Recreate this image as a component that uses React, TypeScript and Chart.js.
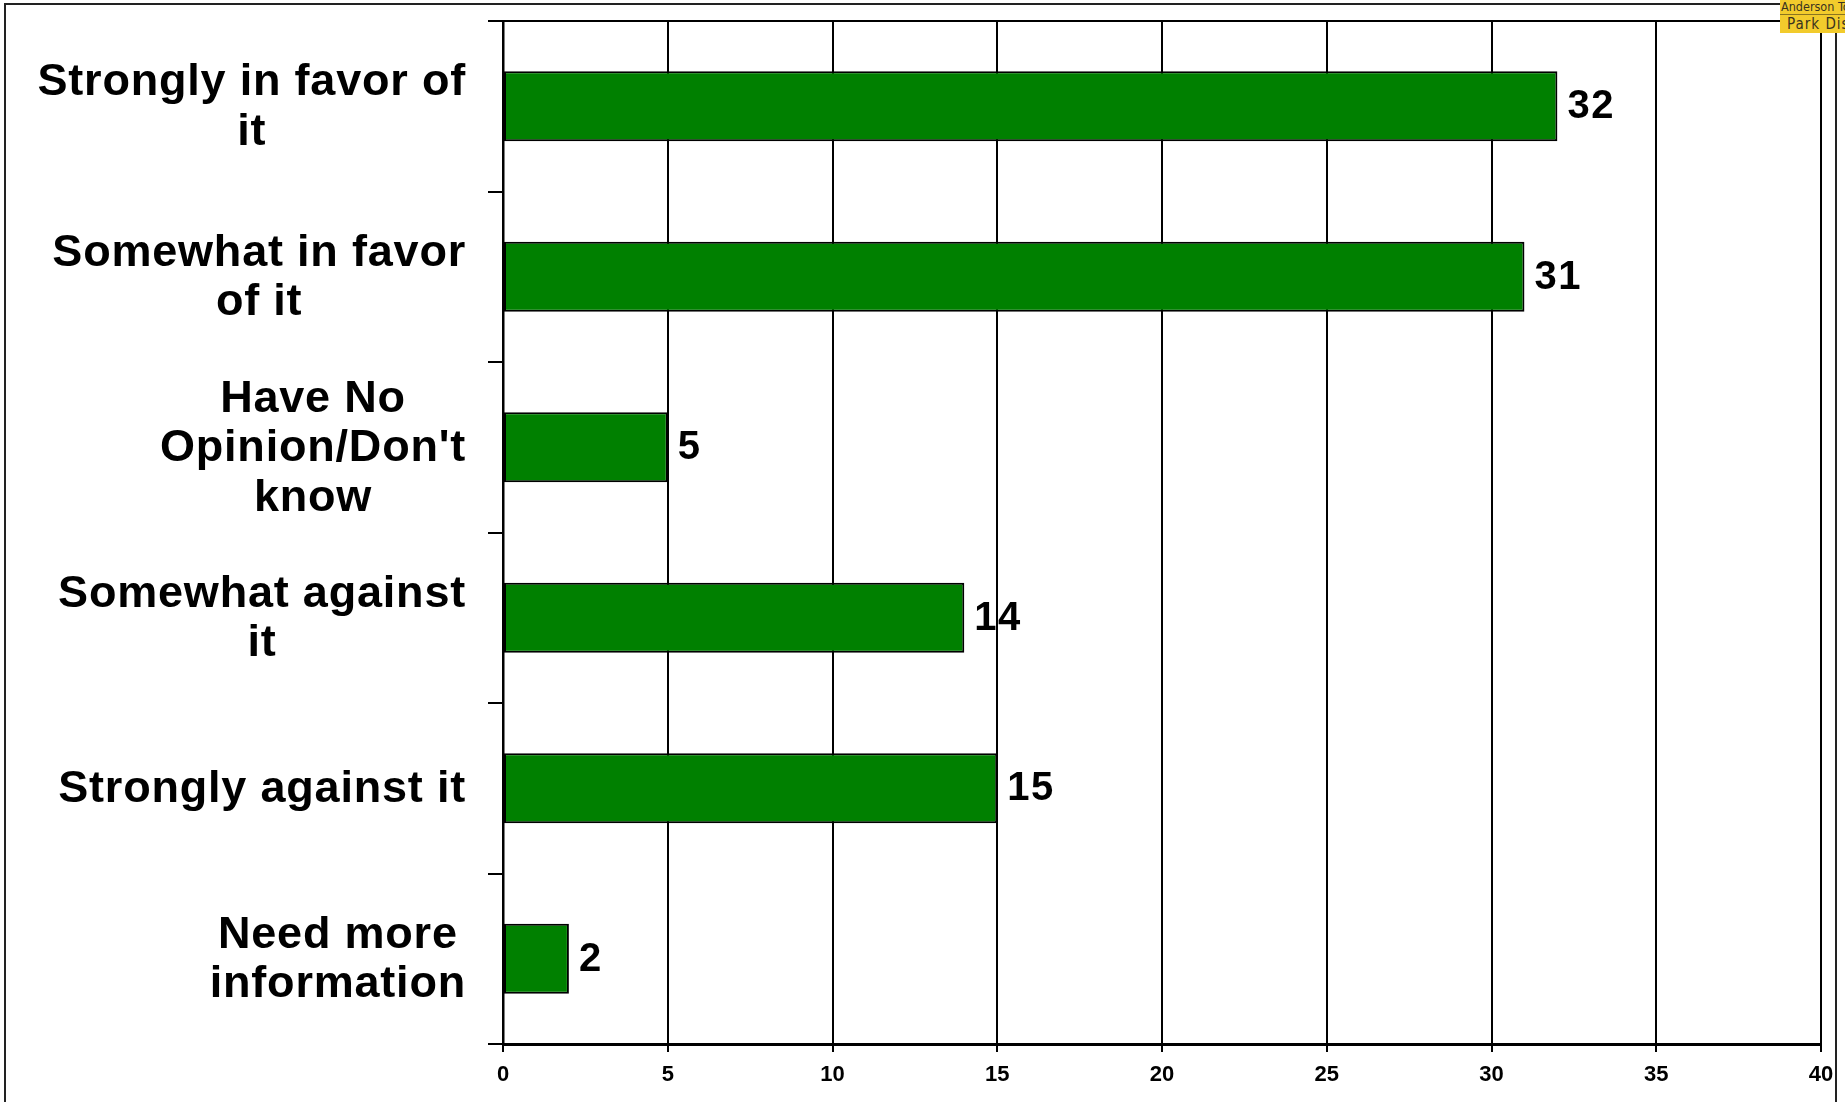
import React, { useEffect, useRef } from 'react';
import { Chart, registerables } from 'chart.js';

Chart.register(...registerables);

const categories: string[][] = [
  ['Strongly in favor of', 'it'],
  ['Somewhat in favor', 'of it'],
  ['Have No', "Opinion/Don't", 'know'],
  ['Somewhat against', 'it'],
  ['Strongly against it'],
  ['Need more', 'information'],
];
const values: number[] = [32, 31, 5, 14, 15, 2];
const xMin = 0;
const xMax = 40;
const xStep = 5;

const FONT = '"Liberation Sans", Arial, Helvetica, sans-serif';

const yLabelPlugin = {
  id: 'yLabels',
  afterDraw(chart: any) {
    const ctx = chart.ctx as CanvasRenderingContext2D;
    const y = chart.scales.y;
    ctx.save();
    ctx.font = `bold 45px ${FONT}`;
    (ctx as any).letterSpacing = '0.8px';
    ctx.fillStyle = '#000';
    ctx.textBaseline = 'middle';
    ctx.textAlign = 'center';
    const right = y.right - 37;
    const lh = 49.4;
    categories.forEach((lines, i) => {
      const cy = y.getPixelForTick(i) + 1.5;
      const w = Math.max(...lines.map((l) => ctx.measureText(l).width));
      const cx = right - w / 2;
      lines.forEach((l, j) => {
        ctx.fillText(l, cx, cy + (j - (lines.length - 1) / 2) * lh);
      });
    });
    ctx.restore();
  },
};

const dataLabelPlugin = {
  id: 'dataLabels',
  afterDatasetsDraw(chart: any) {
    const ctx = chart.ctx as CanvasRenderingContext2D;
    const meta = chart.getDatasetMeta(0);
    ctx.save();
    ctx.font = `bold 40px ${FONT}`;
    (ctx as any).letterSpacing = '1.5px';
    ctx.fillStyle = '#000';
    ctx.textBaseline = 'middle';
    ctx.textAlign = 'left';
    meta.data.forEach((bar: any, i: number) => {
      ctx.fillText(String(values[i]), bar.x + 10, bar.y + 1);
    });
    ctx.restore();
  },
};

const topBorderPlugin = {
  id: 'topBorder',
  afterDraw(chart: any) {
    const { ctx, chartArea } = chart;
    ctx.save();
    ctx.strokeStyle = '#000';
    ctx.lineWidth = 2;
    ctx.beginPath();
    ctx.moveTo(chartArea.left, chartArea.top);
    ctx.lineTo(chartArea.right, chartArea.top);
    ctx.stroke();
    ctx.restore();
  },
};

export default function App() {
  const canvasRef = useRef<HTMLCanvasElement | null>(null);

  useEffect(() => {
    if (!canvasRef.current) return;
    const chart = new Chart(canvasRef.current, {
      type: 'bar',
      data: {
        labels: categories as any,
        datasets: [
          {
            data: values,
            backgroundColor: '#008000',
            borderColor: '#000',
            borderWidth: 2,
            borderSkipped: false,
            barPercentage: 0.41,
            categoryPercentage: 1,
          },
        ],
      },
      options: {
        indexAxis: 'y',
        animation: false,
        responsive: false,
        devicePixelRatio: 1,
        layout: { padding: { top: 21, right: 24, left: 0, bottom: 0 } },
        plugins: {
          legend: { display: false },
          tooltip: { enabled: false },
          title: { display: false },
        },
        scales: {
          x: {
            type: 'linear',
            min: xMin,
            max: xMax,
            ticks: {
              stepSize: xStep,
              color: '#000',
              font: { family: FONT, size: 22, weight: 'bold' },
              padding: 10,
            },
            grid: { color: '#000', lineWidth: 2, tickLength: 8 },
            border: { color: '#000', width: 3 },
            afterFit: (s: any) => {
              s.height = 58;
            },
          },
          y: {
            type: 'category',
            ticks: { display: false },
            grid: {
              offset: true,
              drawOnChartArea: false,
              drawTicks: true,
              tickLength: 15,
              color: '#000',
              lineWidth: 2,
            },
            border: { color: '#000', width: 2.5 },
            afterFit: (s: any) => {
              s.width = 503;
            },
          },
        },
      },
      plugins: [yLabelPlugin, dataLabelPlugin, topBorderPlugin],
    });
    return () => chart.destroy();
  }, []);

  return (
    <div
      style={{
        position: 'absolute',
        left: 0,
        top: 0,
        width: 1845,
        height: 1102,
        overflow: 'hidden',
        background: '#fff',
      }}
    >
      <div
        style={{
          position: 'absolute',
          left: 4,
          top: 3,
          width: 1833,
          height: 1200,
          boxSizing: 'border-box',
          border: '2px solid #222',
        }}
      />
      <canvas
        ref={canvasRef}
        width={1845}
        height={1102}
        style={{ position: 'absolute', left: 0, top: 0, width: 1845, height: 1102 }}
      />
      <div
        style={{
          position: 'absolute',
          left: 1780,
          top: 0,
          width: 65,
          height: 33,
          background: '#f2cb2c',
          overflow: 'hidden',
          color: '#3a3320',
          fontFamily: '"DejaVu Sans Condensed", "Liberation Sans Narrow", sans-serif',
          whiteSpace: 'nowrap',
        }}
      >
        <div style={{ fontSize: 12.5, lineHeight: '14px', paddingLeft: 1, borderBottom: '1px solid #8a7420' }}>
          Anderson Township
        </div>
        <div style={{ fontSize: 15, lineHeight: '18px', paddingLeft: 7, letterSpacing: 1 }}>
          Park District
        </div>
      </div>
    </div>
  );
}
